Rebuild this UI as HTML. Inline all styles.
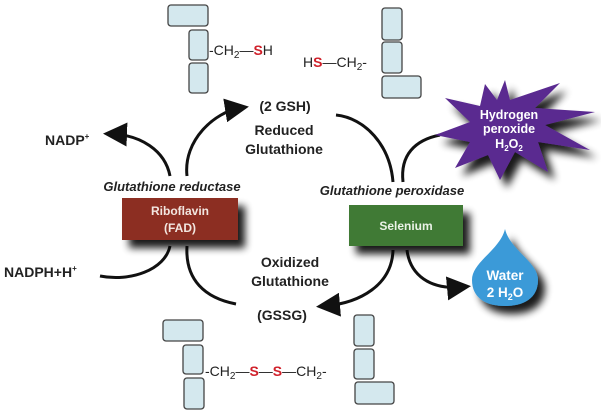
<!DOCTYPE html>
<html><head><style>body{margin:0;background:#fff}svg{display:block}</style></head><body>
<svg width="601" height="414" viewBox="0 0 601 414" xmlns="http://www.w3.org/2000/svg" font-family="Liberation Sans, sans-serif">
<defs>
<marker id="ah" markerWidth="8" markerHeight="8" refX="5" refY="4" orient="auto" markerUnits="strokeWidth"><path d="M0,0 L8,4 L0,8 Z" fill="#111"/></marker>
<filter id="sh" x="-30%" y="-30%" width="170%" height="200%"><feGaussianBlur in="SourceAlpha" stdDeviation="4"/><feOffset dx="7" dy="8"/><feComponentTransfer><feFuncA type="linear" slope="0.9"/></feComponentTransfer><feMerge><feMergeNode/><feMergeNode in="SourceGraphic"/></feMerge></filter>
</defs>
<g fill="#d4e8ee" stroke="#444" stroke-width="1.3">
<rect x="168" y="5" width="40" height="21" rx="3"/><rect x="189" y="30" width="19" height="30" rx="3"/><rect x="189" y="63" width="19" height="30" rx="3"/>
<rect x="382" y="8" width="20" height="32" rx="3"/><rect x="382" y="42" width="20" height="31" rx="3"/><rect x="382" y="76" width="39" height="22" rx="3"/>
<rect x="163" y="320" width="40" height="21" rx="3"/><rect x="183" y="345" width="20" height="29" rx="3"/><rect x="184" y="378" width="20" height="31" rx="3"/>
<rect x="354" y="315" width="20" height="31" rx="3"/><rect x="354" y="349" width="20" height="30" rx="3"/><rect x="355" y="382" width="39" height="22" rx="3"/>
</g>
<g font-size="14" fill="#222">
<text x="209" y="55">-CH<tspan font-size="10" dy="3">2</tspan><tspan dy="-3">—</tspan><tspan fill="#d0202a" font-weight="bold">S</tspan>H</text>
<text x="303" y="67">H<tspan fill="#d0202a" font-weight="bold">S</tspan>—CH<tspan font-size="10" dy="3">2</tspan><tspan dy="-3">-</tspan></text>
<text x="205" y="376">-CH<tspan font-size="10" dy="3">2</tspan><tspan dy="-3">—</tspan><tspan fill="#d0202a" font-weight="bold">S</tspan>—<tspan fill="#d0202a" font-weight="bold">S</tspan>—CH<tspan font-size="10" dy="3">2</tspan><tspan dy="-3">-</tspan></text>
</g>
<g fill="none" stroke="#111" stroke-width="3">
<path d="M170,176 C165,150 140,135 112,134" marker-end="url(#ah)"/>
<path d="M187,176 C183,140 215,112 240,108" marker-end="url(#ah)"/>
<path d="M393,182 C390,145 365,118 336,115"/>
<path d="M403,182 C400,155 415,140 440,135"/>
<path d="M170,246 C165,270 130,282 100,276"/>
<path d="M187,246 C185,280 205,298 236,304"/>
<path d="M393,250 C392,285 360,303 325,306" marker-end="url(#ah)"/>
<path d="M407,250 C410,275 430,290 462,287" marker-end="url(#ah)"/>
</g>
<polygon filter="url(#sh)" fill="#5a2a90" points="505,80 510,100 560,83 535,108 595,112 545,125 590,150 538,142 548,172 515,152 500,180 488,155 455,168 470,142 435,135 470,122 445,98 480,106 485,84 497,100" />
<g fill="#fff" font-weight="bold" font-size="12.5" text-anchor="middle">
<text x="509" y="119">Hydrogen</text><text x="509" y="133">peroxide</text><text x="509" y="148">H<tspan font-size="8" dy="3">2</tspan><tspan dy="-3">O</tspan><tspan font-size="8" dy="3">2</tspan></text>
</g>
<path filter="url(#sh)" fill="#3a9ad8" d="M505,229 C510,250 538,262 538,280 C538,298 524,306 505,306 C486,306 472,298 472,280 C472,262 500,250 505,229 Z"/>
<g fill="#fff" font-weight="bold" font-size="13.5" text-anchor="middle">
<text x="505" y="280">Water</text><text x="505" y="297">2 H<tspan font-size="9" dy="3">2</tspan><tspan dy="-3">O</tspan></text>
</g>
<rect filter="url(#sh)" x="122" y="198" width="116" height="42" fill="#8c2f22"/>
<rect filter="url(#sh)" x="349" y="205" width="114" height="41" fill="#3f7a36"/>
<g font-weight="bold" font-size="12" fill="#f2e6e0" text-anchor="middle">
<text x="180" y="215">Riboflavin</text><text x="180" y="232">(FAD)</text>
<text x="406" y="230" fill="#eaf2e6">Selenium</text>
</g>
<g font-weight="bold" font-size="14" fill="#222">
<text x="45" y="145">NADP<tspan font-size="8" dy="-6">+</tspan></text>
<text x="4" y="277">NADPH+H<tspan font-size="8" dy="-6">+</tspan></text>
<g text-anchor="middle">
<text x="285" y="111">(2 GSH)</text><text x="284" y="135">Reduced</text><text x="284" y="154">Glutathione</text>
<text x="290" y="267">Oxidized</text><text x="290" y="286">Glutathione</text><text x="282" y="320">(GSSG)</text>
</g>
<g font-style="italic" font-size="13" text-anchor="middle">
<text x="172" y="191">Glutathione reductase</text>
<text x="392" y="195">Glutathione peroxidase</text>
</g>
</g>
</svg>
</body></html>
